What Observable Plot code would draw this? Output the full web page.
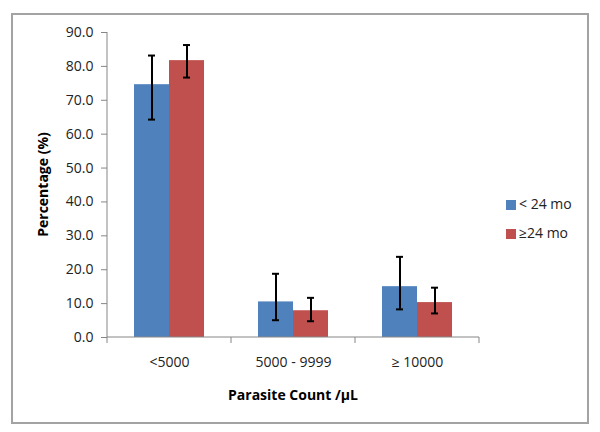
<!DOCTYPE html>
<html>
<head>
<meta charset="utf-8">
<script src="https://cdn.jsdelivr.net/npm/d3@7"></script>
<script src="https://cdn.jsdelivr.net/npm/@observablehq/plot@0.6"></script>
<style>
  html, body { margin: 0; padding: 0; background: #fff; }
  #wrap { position: relative; width: 600px; height: 432px; font-family: "Open Sans", sans-serif; color: #222; }
  #border { position: absolute; left: 11px; top: 13px; width: 574px; height: 407px; border: 2px solid #a3a3a3; box-sizing: content-box; }
  #chart { position: absolute; left: 0; top: 0; }
  .leg { position: absolute; left: 506px; font-size: 14px; line-height: 16px; white-space: nowrap; }
  .leg span.sw { display: inline-block; width: 10px; height: 10px; margin-right: 3px; vertical-align: -1px; }
</style>
</head>
<body>
<div id="wrap">
  <div id="border"></div>
  <div id="chart"></div>
  <div id="legend"></div>
</div>
<script>
const categories = ["<5000", "5000 - 9999", "\u2265 10000"];
const series = ["< 24 mo", "\u226524 mo"];
const colors = ["#4F81BD", "#C0504D"];
const under24 = [74.6, 10.5, 15.0];
const under24Lo = [64.3, 5.1, 8.3];
const under24Hi = [83.2, 18.8, 23.8];
const over24 = [81.7, 7.9, 10.3];
const over24Lo = [76.7, 4.8, 7.1];
const over24Hi = [86.3, 11.7, 14.7];
const yTicks = [0, 10, 20, 30, 40, 50, 60, 70, 80, 90];
const xLabel = "Parasite Count /\u00b5L";
const yLabel = "Percentage (%)";

const data = categories.flatMap((c, i) => [
  {cat: c, grp: series[0], value: under24[i], lo: under24Lo[i], hi: under24Hi[i]},
  {cat: c, grp: series[1], value: over24[i], lo: over24Lo[i], hi: over24Hi[i]}
]);

const plot = Plot.plot({
  width: 600, height: 432,
  marginLeft: 106, marginRight: 121, marginTop: 32, marginBottom: 95,
  style: {fontFamily: "Open Sans, sans-serif", fontSize: "14px", color: "#222", background: "transparent", overflow: "visible"},
  fx: {domain: categories, padding: 0, label: null, axis: null},
  x: {domain: series, paddingInner: 0, paddingOuter: 0.75, axis: null},
  y: {domain: [0, 90], label: null},
  color: {domain: series, range: colors},
  marks: [
    Plot.axisY({ticks: yTicks, tickFormat: d => d.toFixed(1), tickSize: 6, tickPadding: 8, stroke: "#868686", label: null}),
    Plot.axisFx({anchor: "bottom", tickSize: 0, tickPadding: 20, label: null}),
    Plot.barY(data, {fx: "cat", x: "grp", y: "value", fill: "grp"}),
    Plot.ruleX(data, {fx: "cat", x: "grp", y1: "lo", y2: "hi", stroke: "#000", strokeWidth: 2}),
    Plot.tickY(data, {fx: "cat", x: "grp", y: "lo", stroke: "#000", strokeWidth: 2, insetLeft: 14, insetRight: 14}),
    Plot.tickY(data, {fx: "cat", x: "grp", y: "hi", stroke: "#000", strokeWidth: 2, insetLeft: 14, insetRight: 14})
  ]
});

document.getElementById("chart").appendChild(plot);

// axis lines and category boundary ticks from the library's scales
const fx = plot.scale("fx");
const y = plot.scale("y");
const svg = d3.select(plot);
const y0 = y.apply(0);
const yTop = y.apply(90);
const bounds = categories.map(c => fx.apply(c));
bounds.push(fx.apply(categories[categories.length - 1]) + fx.bandwidth);
const left = bounds[0], right = bounds[bounds.length - 1];
const g = svg.append("g").attr("stroke", "#868686").attr("stroke-width", 1);
g.append("line").attr("x1", left).attr("x2", left).attr("y1", yTop).attr("y2", y0);
g.append("line").attr("x1", left).attr("x2", right).attr("y1", y0).attr("y2", y0);
bounds.forEach(b => g.append("line").attr("x1", b).attr("x2", b).attr("y1", y0).attr("y2", y0 + 6));

// axis titles
svg.append("text").attr("x", (left + right) / 2).attr("y", y0 + 63)
  .attr("text-anchor", "middle").attr("font-weight", "bold").attr("font-size", 14).attr("fill", "#000")
  .text(xLabel);
svg.append("text").attr("transform", `translate(48,${(yTop + y0) / 2}) rotate(-90)`)
  .attr("text-anchor", "middle").attr("font-weight", "bold").attr("font-size", 14).attr("fill", "#000")
  .text(yLabel);

// legend
const legend = document.getElementById("legend");
series.forEach((s, i) => {
  const d = document.createElement("div");
  d.className = "leg";
  d.style.top = (196 + i * 29) + "px";
  d.innerHTML = `<span class="sw" style="background:${colors[i]}"></span>`;
  d.appendChild(document.createTextNode(s));
  legend.appendChild(d);
});
</script>
</body>
</html>
